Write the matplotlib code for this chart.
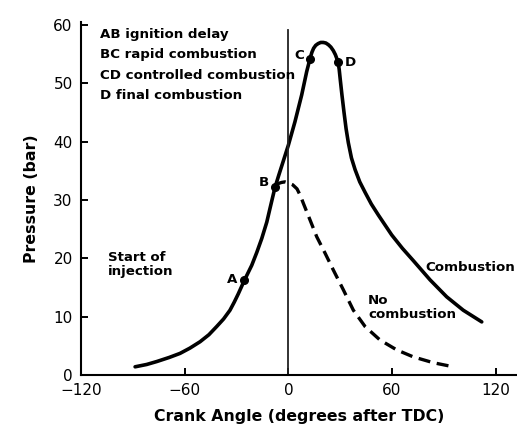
import matplotlib
matplotlib.use("Agg")
import matplotlib.pyplot as plt

# pressure vs crank angle
comb_angle = [-88.7, -82.0, -76.2, -69.0, -62.7, -57.0, -51.1, -46.0, -41.5, -37.5,
              -33.8, -31.3, -29.0, -25.5, -21.2, -18.3, -15.4, -12.5, -10.6, -9.0, -7.7,
              -5.5, -2.8, 0.0, 3.8, 7.7, 10.6, 12.5, 13.6, 14.6, 15.8, 17.2, 18.7,
              20.2, 21.7, 23.2, 24.6, 26.0, 27.2, 28.2, 28.8, 29.4, 30.0, 31.0,
              32.2, 33.4, 34.7, 36.5, 38.6, 41.3, 44.4, 48.0, 52.1, 59.8, 66.0, 72.3,
              82.0, 91.6, 101.2, 111.9]
comb_press = [1.4, 1.8, 2.3, 3.0, 3.7, 4.6, 5.7, 6.9, 8.3, 9.6,
              11.1, 12.5, 13.9, 16.2, 18.8, 21.0, 23.4, 26.2, 28.6, 30.6, 32.2,
              34.3, 36.8, 39.4, 43.4, 48.0, 52.0, 54.2, 55.3, 56.0, 56.5, 56.8, 57.0,
              57.0, 56.9, 56.6, 56.2, 55.6, 54.9, 54.1, 53.6, 52.4, 50.7, 48.0,
              45.0, 42.2, 39.8, 37.2, 35.2, 33.1, 31.3, 29.3, 27.4, 24.0, 21.7, 19.6,
              16.3, 13.4, 11.1, 9.1]

nocomb_angle = [-7.7, -6.0, -4.0, -2.0, 0.2, 2.5, 5.0, 7.0, 8.7, 12.5, 16.4, 21.2, 26.0,
                31.8, 37.6, 44.4, 53.0, 62.7, 72.3, 83.9, 95.5]
nocomb_press = [32.3, 32.8, 33.0, 33.1, 32.9, 32.6, 31.9, 30.7, 29.4, 26.6, 23.7, 20.9,
                18.0, 14.6, 11.1, 8.3, 6.0, 4.3, 3.1, 2.1, 1.4]

point_names = ["A", "B", "C", "D"]
point_angle = [-25.5, -7.7, 12.5, 28.8]
point_press = [16.2, 32.3, 54.2, 53.6]
# label offsets in points (dx, dy, ha)
point_offsets = [(-5, 1, "right"), (-4.5, 3, "right"), (-4.5, 2.5, "right"), (5, 0, "left")]

key_lines = ["AB ignition delay", "BC rapid combustion",
             "CD controlled combustion", "D final combustion"]

x_ticks = [-120, -60, 0, 60, 120]
y_ticks = [0, 10, 20, 30, 40, 50, 60]

ann_font = dict(weight="bold", fontsize=9.6)

fig = plt.figure(figsize=(5.17, 4.32), dpi=100)
ax = fig.add_axes([0.1567, 0.132, 0.8433, 0.817])

ax.plot(comb_angle, comb_press, color="black", lw=2.6, solid_joinstyle="round",
        solid_capstyle="round")
ax.plot(nocomb_angle, nocomb_press, color="black", lw=2.4, dashes=(3.6, 2.0),
        dash_joinstyle="round")
ax.plot(point_angle, point_press, "o", color="black", ms=5.5)
ax.plot([0, 0], [0, 59.2], color="#222222", lw=1.3)

for name, a, p, (dx, dy, ha) in zip(point_names, point_angle, point_press, point_offsets):
    ax.annotate(name, (a, p), xytext=(dx, dy), textcoords="offset points",
                ha=ha, va="center", **ann_font)

for i, line in enumerate(key_lines):
    ax.text(-109, 58.3 - i * 3.45, line, ha="left", va="center", **ann_font)

ax.text(-104.4, 18.9, "Start of\ninjection", ha="left", va="center", linespacing=1.15, **ann_font)
ax.text(79.1, 18.5, "Combustion", ha="left", va="center", **ann_font)
ax.text(46.1, 11.6, "No\ncombustion", ha="left", va="center", linespacing=1.1, **ann_font)

ax.set_xlim(-120, 132.3)
ax.set_ylim(0, 60.5)
ax.set_xticks(x_ticks)
ax.set_yticks(y_ticks)
ax.tick_params(direction="in", length=5, width=1.4, pad=6, colors="black", labelsize=11)

for side in ["top", "right"]:
    ax.spines[side].set_visible(False)
for side in ["left", "bottom"]:
    ax.spines[side].set_linewidth(1.5)

ax.set_xlabel("Crank Angle (degrees after TDC)", fontsize=11.3, weight="bold", labelpad=8)
ax.set_ylabel("Pressure (bar)", fontsize=11.3, weight="bold", labelpad=10)

fig.savefig("out.png", dpi=100)
